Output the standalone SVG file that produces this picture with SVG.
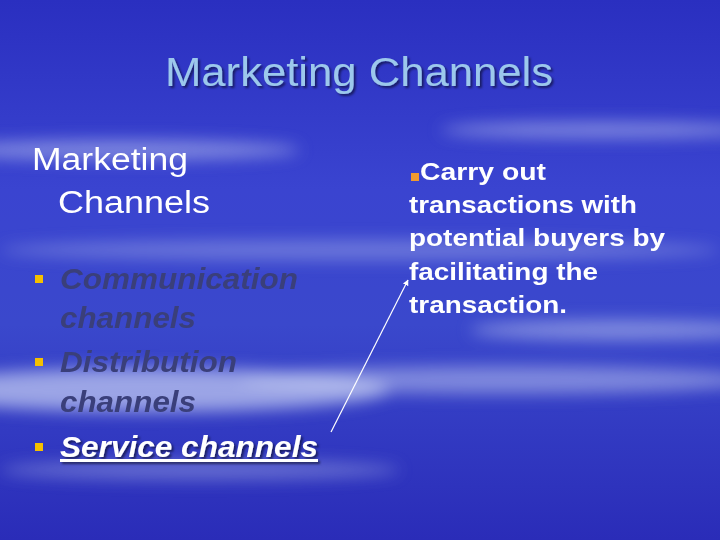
<svg xmlns="http://www.w3.org/2000/svg" width="720" height="540" viewBox="0 0 720 540">
<defs>
<linearGradient id="bg" x1="0" y1="0" x2="0" y2="1">
<stop offset="0" stop-color="#2a2fc0"/><stop offset="0.35" stop-color="#3a44d0"/><stop offset="0.6" stop-color="#3a48cc"/><stop offset="1" stop-color="#2a2cb8"/>
</linearGradient>
<filter id="blur"><feGaussianBlur stdDeviation="8"/></filter>
<filter id="sh"><feDropShadow dx="2" dy="2" stdDeviation="1" flood-color="#000" flood-opacity="0.5"/></filter>
<marker id="ah" viewBox="0 0 10 10" refX="9" refY="5" markerWidth="5" markerHeight="5" orient="auto"><path d="M0,0 L10,5 L0,10 z" fill="#fff"/></marker>
<style>
.t{font-family:"Liberation Sans",Arial,sans-serif}
.lbl{font-size:31px;fill:#fff}
.it{font-size:30px;font-style:italic;font-weight:bold;fill:#3a3f7a}
.r{font-size:24px;font-weight:bold;fill:#fff}
.bul{fill:#f5c000}
</style>
</defs>
<rect width="720" height="540" fill="url(#bg)"/>
<g filter="url(#blur)" fill="#c8d0f4">
<ellipse cx="120" cy="150" rx="180" ry="10" opacity="0.5"/>
<ellipse cx="600" cy="130" rx="160" ry="8" opacity="0.5"/>
<ellipse cx="150" cy="390" rx="240" ry="22" opacity="0.7"/>
<ellipse cx="500" cy="380" rx="260" ry="14" opacity="0.5"/>
<ellipse cx="620" cy="330" rx="150" ry="10" opacity="0.5"/>
<ellipse cx="360" cy="250" rx="360" ry="10" opacity="0.35"/>
<ellipse cx="200" cy="470" rx="200" ry="10" opacity="0.35"/>
</g>
<g id="title"><text class="t" x="165" y="86" textLength="388" lengthAdjust="spacingAndGlyphs" font-size="41" fill="#9cc8ec" filter="url(#sh)">Marketing Channels</text></g>
<g id="left" class="t">
<text class="lbl" x="32" y="170" textLength="156" lengthAdjust="spacingAndGlyphs">Marketing</text>
<text class="lbl" x="58" y="213" textLength="152" lengthAdjust="spacingAndGlyphs">Channels</text>
<rect class="bul" x="35" y="275" width="8" height="8"/>
<text class="it" x="60" y="289" textLength="238" lengthAdjust="spacingAndGlyphs">Communication</text>
<text class="it" x="60" y="328" textLength="136" lengthAdjust="spacingAndGlyphs">channels</text>
<rect class="bul" x="35" y="358" width="8" height="8"/>
<text class="it" x="60" y="372" textLength="177" lengthAdjust="spacingAndGlyphs">Distribution</text>
<text class="it" x="60" y="412" textLength="136" lengthAdjust="spacingAndGlyphs">channels</text>
<rect class="bul" x="35" y="443" width="8" height="8"/>
<text x="60" y="457" textLength="258" lengthAdjust="spacingAndGlyphs" font-size="30" font-style="italic" font-weight="bold" fill="#fff" text-decoration="underline" filter="url(#sh)">Service channels</text>
</g>
<g id="right" class="t">
<rect x="411" y="173" width="8" height="8" fill="#f09a30"/>
<text class="r" x="420" y="180" textLength="126" lengthAdjust="spacingAndGlyphs">Carry out</text>
<text class="r" x="409" y="213" textLength="228" lengthAdjust="spacingAndGlyphs">transactions with</text>
<text class="r" x="409" y="246" textLength="256" lengthAdjust="spacingAndGlyphs">potential buyers by</text>
<text class="r" x="409" y="280" textLength="189" lengthAdjust="spacingAndGlyphs">facilitating the</text>
<text class="r" x="409" y="313" textLength="158" lengthAdjust="spacingAndGlyphs">transaction.</text>
</g>
<g id="connectors"><line x1="331" y1="432" x2="408" y2="280" stroke="#fff" stroke-width="1.2" marker-end="url(#ah)"/></g>
</svg>
